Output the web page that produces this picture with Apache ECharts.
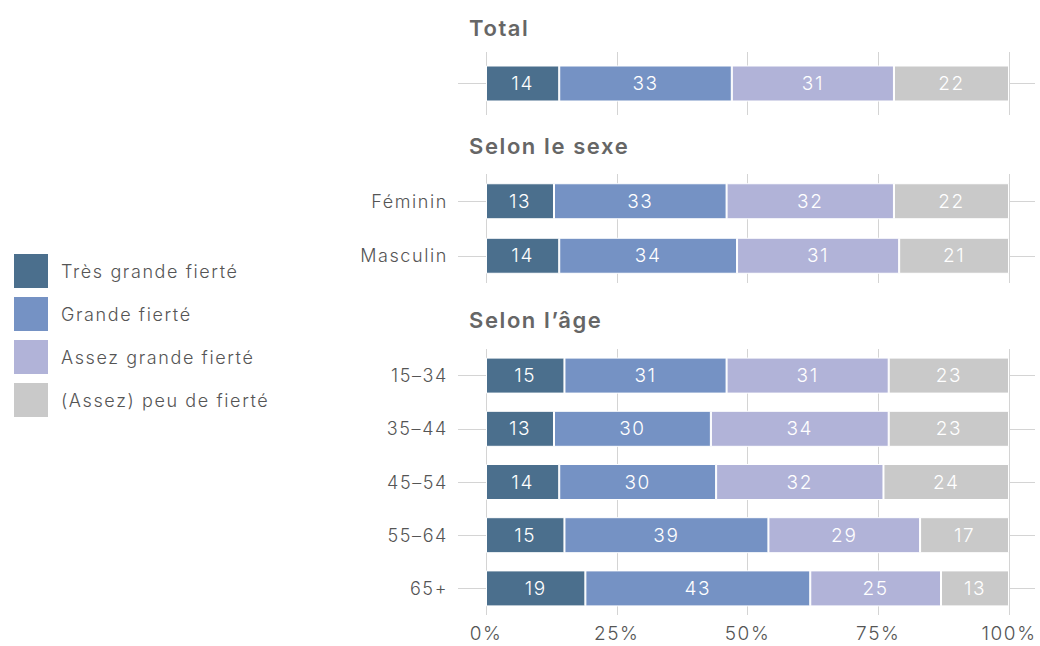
<!DOCTYPE html>
<html>
<head>
<meta charset="utf-8">
<script src="https://cdn.jsdelivr.net/npm/echarts@6/dist/echarts.min.js"></script>
<style>
  html, body { margin: 0; padding: 0; background: #fff; }
  #main { width: 1040px; height: 646px; }
  #main text { letter-spacing: 1.6px; }
</style>
</head>
<body>
<div id="main"></div>
<script>
"use strict";

const levels = ["Très grande fierté", "Grande fierté", "Assez grande fierté", "(Assez) peu de fierté"];
const colors = ["#4b6f8d", "#7592c4", "#b1b3d8", "#c9c9c9"];

const headers = ["Total", "Selon le sexe", "Selon l’âge"];

const totalCats = [""];
const totalRows = [[14, 33, 31, 22]];

const sexCats = ["Féminin", "Masculin"];
const sexRows = [
  [13, 33, 32, 22],
  [14, 34, 31, 21],
];

const ageCats = ["15–34", "35–44", "45–54", "55–64", "65+"];
const ageRows = [
  [15, 31, 31, 23],
  [13, 30, 34, 23],
  [14, 30, 32, 24],
  [15, 39, 29, 17],
  [19, 43, 25, 13],
];

const xTicks = [0, 25, 50, 75, 100];

const font = "Inter";
const textColor = "#555";
const lineColor = "#d4d4d4";

let chartDom = document.getElementById("main");
let myChart = echarts.init(chartDom, null, { renderer: "svg" });

const blocks = [
  { cats: totalCats, rows: totalRows, top: 52, height: 63 },
  { cats: sexCats, rows: sexRows, top: 174, height: 109 },
  { cats: ageCats, rows: ageRows, top: 349, height: 266 },
];

const grids = [];
const xAxes = [];
const yAxes = [];
const series = [];

blocks.forEach((b, i) => {
  grids.push({ left: 486, right: 31, top: b.top, height: b.height });
  xAxes.push({
    gridIndex: i,
    type: "value",
    min: 0,
    max: 100,
    interval: 25,
    axisLine: { show: false },
    axisTick: { show: false },
    splitLine: { show: true, lineStyle: { color: lineColor, width: 1 } },
    axisLabel: {
      show: i === blocks.length - 1,
      formatter: (v) => (xTicks.includes(v) ? v + "%" : ""),
      fontFamily: font,
      fontWeight: 300,
      fontSize: 19,
      color: textColor,
      margin: 9,
    },
  });
  // left axis: labels + short line on the left of each bar
  yAxes.push({
    gridIndex: i,
    type: "category",
    data: b.cats,
    inverse: true,
    position: "left",
    axisLine: { show: false },
    axisTick: { show: true, alignWithLabel: true, length: 28, lineStyle: { color: lineColor } },
    axisLabel: { fontFamily: font, fontWeight: 300, fontSize: 18, color: textColor, margin: 38 },
  });
  // right axis: only the short line after 100%
  yAxes.push({
    gridIndex: i,
    type: "category",
    data: b.cats,
    inverse: true,
    position: "right",
    axisLine: { show: false },
    axisTick: { show: true, alignWithLabel: true, length: 26, lineStyle: { color: lineColor } },
    axisLabel: { show: false },
  });
  levels.forEach((name, k) => {
    series.push({
      name: name,
      type: "bar",
      stack: "s" + i,
      xAxisIndex: i,
      yAxisIndex: i * 2,
      barWidth: 36,
      data: b.rows.map((r) => r[k]),
      itemStyle: { color: colors[k], borderColor: "#fff", borderWidth: 1 },
      label: {
        show: true,
        position: "inside",
        color: "#fff",
        fontFamily: font,
        fontWeight: 300,
        fontSize: 19,
      },
    });
  });
});

const headerTops = [30, 148, 322];

let option = {
  animation: false,
  backgroundColor: "#fff",
  textStyle: { fontFamily: font },
  legend: {
    orient: "vertical",
    left: 12,
    top: 252,
    padding: 0,
    data: levels,
    icon: "rect",
    itemWidth: 36,
    itemHeight: 36,
    itemGap: 5,
    textStyle: { fontFamily: font, fontWeight: 300, fontSize: 18, color: textColor, padding: [0, 0, 0, 7] },
    selectedMode: false,
  },
  graphic: headers.map((h, i) => ({
    type: "text",
    left: 469,
    top: headerTops[i] - 13,
    style: {
      text: h,
      fontFamily: font,
      fontSize: 22,
      fontWeight: 600,
      fill: "#666",
    },
  })),
  grid: grids,
  xAxis: xAxes,
  yAxis: yAxes,
  series: series,
};

option && myChart.setOption(option);
</script>
</body>
</html>
